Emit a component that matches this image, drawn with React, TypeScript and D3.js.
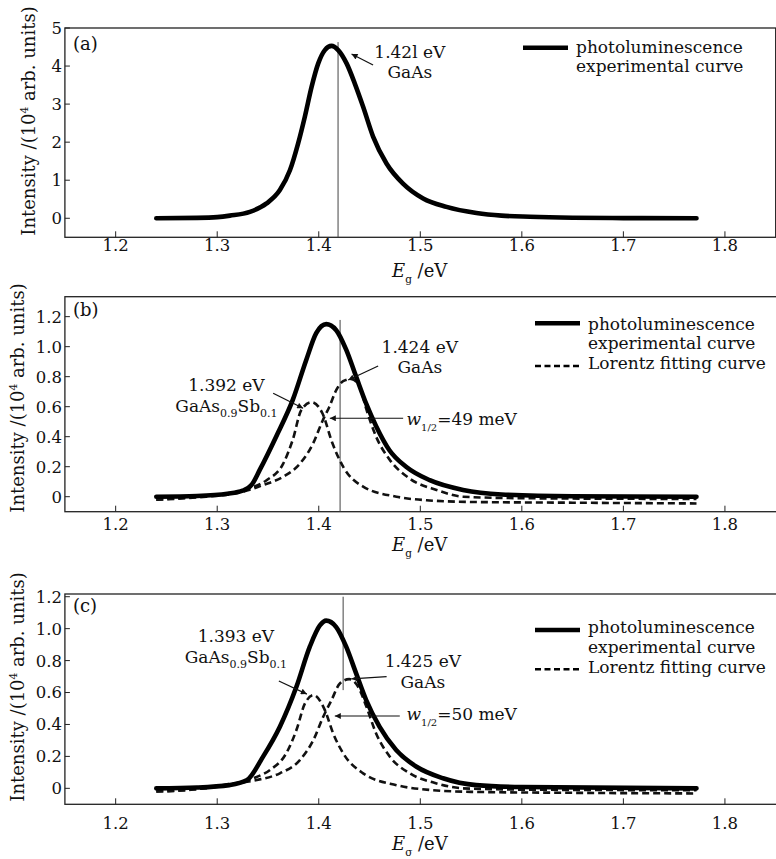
import React from 'react';
import * as d3 from 'd3';

const W = 776;
const H = 859;
const FONT = '"DejaVu Serif", "Liberation Serif", serif';
const FS = 18;
const FS_NOTE = 17;

// shared photon energy ticks (eV)
const xTicks = [1.2, 1.3, 1.4, 1.5, 1.6, 1.7, 1.8];

// (a) photoluminescence, [E (eV), intensity (1e4 arb. units)]
const plA = [
  [1.24, 0], [1.28, 0.01], [1.3, 0.03], [1.3125, 0.07], [1.3322, 0.17], [1.3486, 0.39],
  [1.3617, 0.74], [1.3716, 1.26], [1.3797, 1.97], [1.3863, 2.67], [1.393, 3.46], [1.3995, 4.07],
  [1.406, 4.42], [1.4126, 4.53], [1.4191, 4.42], [1.4274, 4.07], [1.4355, 3.54], [1.4437, 2.93],
  [1.4536, 2.14], [1.4667, 1.44], [1.483, 0.91], [1.5028, 0.52], [1.5258, 0.3], [1.5553, 0.14],
  [1.58, 0.07], [1.608, 0.04], [1.65, 0.015], [1.7, 0.005], [1.772, 0],
];

// (b) photoluminescence + two Lorentz fits
const plB = [
  [1.24, 0], [1.28, 0.005], [1.31, 0.02], [1.325, 0.04], [1.334, 0.08], [1.342, 0.18],
  [1.358, 0.4], [1.3744, 0.645], [1.3876, 0.91], [1.3975, 1.09], [1.4073, 1.15], [1.4172, 1.11],
  [1.427, 0.98], [1.4368, 0.8], [1.4467, 0.62], [1.4565, 0.47], [1.4696, 0.31], [1.486, 0.2],
  [1.5093, 0.11], [1.5421, 0.045], [1.58, 0.015], [1.65, 0.003], [1.772, 0],
];
const sbB = [
  [1.24, -0.02], [1.28, 0], [1.31, 0.02], [1.332, 0.056], [1.3486, 0.11], [1.365, 0.22],
  [1.3744, 0.38], [1.383, 0.58], [1.393, 0.63], [1.4036, 0.556], [1.4135, 0.356], [1.424, 0.2],
  [1.4437, 0.067], [1.4765, 0], [1.509, -0.025], [1.55, -0.035], [1.65, -0.04], [1.772, -0.045],
];
const gaB = [
  [1.24, -0.02], [1.28, -0.005], [1.3256, 0.033], [1.3453, 0.078], [1.365, 0.133], [1.3814, 0.22],
  [1.3945, 0.356], [1.404, 0.51], [1.4105, 0.6], [1.4172, 0.71], [1.424, 0.77], [1.432, 0.785],
  [1.4405, 0.73], [1.447, 0.58], [1.4565, 0.4], [1.47, 0.245], [1.4897, 0.12], [1.516, 0.045],
  [1.542, 0], [1.6, -0.01], [1.772, -0.015],
];

// (c) photoluminescence + two Lorentz fits
const plC = [
  [1.24, 0], [1.28, 0.005], [1.3118, 0.02], [1.329, 0.05], [1.3453, 0.2], [1.3617, 0.386],
  [1.378, 0.636], [1.3912, 0.887], [1.4011, 1.02], [1.4073, 1.05], [1.4172, 1.01], [1.427, 0.887],
  [1.4368, 0.72], [1.4467, 0.553], [1.4598, 0.386], [1.4762, 0.24], [1.4963, 0.135], [1.5224, 0.063],
  [1.555, 0.02], [1.6, 0.008], [1.772, 0],
];
const sbC = [
  [1.24, -0.02], [1.28, -0.005], [1.31, 0.02], [1.3355, 0.063], [1.352, 0.115], [1.368, 0.22],
  [1.378, 0.365], [1.3863, 0.53], [1.395, 0.584], [1.406, 0.49], [1.4142, 0.344], [1.424, 0.22],
  [1.4437, 0.094], [1.4765, 0.02], [1.509, -0.01], [1.55, -0.022], [1.65, -0.028], [1.772, -0.032],
];
const gaC = [
  [1.24, -0.02], [1.28, -0.005], [1.31, 0.025], [1.339, 0.052], [1.3617, 0.094], [1.3814, 0.177],
  [1.3945, 0.3], [1.4044, 0.448], [1.4126, 0.553], [1.4208, 0.657], [1.43, 0.684], [1.4388, 0.636],
  [1.447, 0.51], [1.4565, 0.344], [1.47, 0.198], [1.4897, 0.094], [1.516, 0.031], [1.542, 0],
  [1.6, -0.008], [1.772, -0.012],
];

// thin vertical marker lines [E, yTop, yBottom]
const markA = [1.419, 4.63, -0.5];
const markB = [1.421, 1.178, -0.1];
const markC = [1.424, 1.2, 0.615];

const yTicksA = [0, 1, 2, 3, 4, 5];
const yTicksB = [0, 0.2, 0.4, 0.6, 0.8, 1.0, 1.2];

const panels = [
  {
    letter: '(a)', top: 28, bottom: 237.3, right: 775.7, yDomain: [-0.5, 5], yTicks: yTicksA,
    fmt: (d) => String(d), solid: plA, dashed: [], mark: markA,
    tickBase: 251, xLabelBase: 277, xSub: 'g', yLabelX: 35, yLabelY: 121,
    letterDy: 22, legend: { line: 19.7, text: [25, 44], dash: null },
  },
  {
    letter: '(b)', top: 296.7, bottom: 511.7, right: 778, yDomain: [-0.1, 1.333], yTicks: yTicksB,
    fmt: (d) => (d === 0 ? '0' : d.toFixed(1)), solid: plB, dashed: [sbB, gaB], mark: markB,
    tickBase: 530, xLabelBase: 551, xSub: 'g', yLabelX: 24, yLabelY: 398,
    letterDy: 19.3, legend: { line: 26.6, text: [33.3, 52.3, 72.3], dash: 69.3 },
  },
  {
    letter: '(c)', top: 594, bottom: 804.3, right: 778, yDomain: [-0.1, 1.217], yTicks: yTicksB,
    fmt: (d) => (d === 0 ? '0' : d.toFixed(1)), solid: plC, dashed: [sbC, gaC], mark: markC,
    tickBase: 829, xLabelBase: 850, xSub: 'σ', yLabelX: 24, yLabelY: 687,
    letterDy: 18, legend: { line: 36, text: [39, 59, 79], dash: 75.3 },
  },
];

// annotations in data coordinates
const annA = {
  ga: { cx: 1.4897, b1: 4.203, b2: 3.69, t1: '1.42l eV', from: [1.4535, 4.026], to: [1.4323, 4.316] },
};
const annB = {
  sb: { cx: 1.3091, b1: 0.7047, b2: 0.5667, t1: '1.392 eV', from: [1.3551, 0.6893], to: [1.3846, 0.5893] },
  ga: { cx: 1.4995, b1: 0.956, b2: 0.8227, t1: '1.424 eV', from: [1.4585, 0.8713], to: [1.429, 0.778] },
  w: { from: [1.4831, 0.5227], to: [1.4109, 0.5227], tx: 1.4864, tb: 0.478, t: '=49 meV' },
};
const annC = {
  sb: { cx: 1.3184, b1: 0.918, b2: 0.783, t1: '1.393 eV', from: [1.3607, 0.672], to: [1.3883, 0.59] },
  ga: { cx: 1.5025, b1: 0.761, b2: 0.626, t1: '1.425 eV', from: [1.4668, 0.699], to: [1.4323, 0.686] },
  w: { from: [1.4798, 0.453], to: [1.4158, 0.453], tx: 1.4864, tb: 0.428, t: '=50 meV' },
};
const annotations = [annA, annB, annC];

const x = d3.scaleLinear().domain([1.15, 1.85]).range([64.9, 775.7]);

const Arrow = ({ from, to, y }) => (
  <line
    x1={x(from[0])} y1={y(from[1])} x2={x(to[0])} y2={y(to[1])}
    stroke="#111" strokeWidth={1.2} markerEnd="url(#ah)"
  />
);

const Panel = ({ p, ann }) => {
  const y = d3.scaleLinear().domain(p.yDomain).range([p.bottom, p.top]);
  const line = d3.line().x((d) => x(d[0])).y((d) => y(d[1])).curve(d3.curveMonotoneX);
  const left = x(1.15);
  const lg = p.legend;
  const lgText = ['photoluminescence', 'experimental curve', 'Lorentz fitting curve'];
  const lgX0 = p.dashed.length ? 535 : 523;

  return (
    <g>
      {/* frame */}
      <rect x={left} y={p.top} width={p.right - left} height={p.bottom - p.top}
        fill="none" stroke="#222" strokeWidth={1.3} />

      {/* x ticks */}
      {xTicks.map((t) => (
        <g key={t}>
          <line x1={x(t)} x2={x(t)} y1={p.bottom} y2={p.bottom - 6} stroke="#222" strokeWidth={1} />
          <text x={x(t)} y={p.tickBase} textAnchor="middle" fontSize={16.5}>{t.toFixed(1)}</text>
        </g>
      ))}
      {/* y ticks */}
      {p.yTicks.map((t) => (
        <g key={t}>
          <line x1={left} x2={left + 5} y1={y(t)} y2={y(t)} stroke="#222" strokeWidth={1} />
          <text x={left - 3} y={y(t)} dy="0.36em" textAnchor="end" fontSize={16.5}>{p.fmt(t)}</text>
        </g>
      ))}

      {/* marker line */}
      <line x1={x(p.mark[0])} x2={x(p.mark[0])} y1={y(p.mark[1])} y2={y(p.mark[2])}
        stroke="#444" strokeWidth={1} />

      {/* curves */}
      {p.dashed.map((d, i) => (
        <path key={i} d={line(d)} fill="none" stroke="#111" strokeWidth={2.6} strokeDasharray="7 4" />
      ))}
      <path d={line(p.solid)} fill="none" stroke="#000" strokeWidth={4.6}
        strokeLinecap="round" strokeLinejoin="round" />

      {/* panel letter */}
      <text x={left + 8} y={p.top + p.letterDy} fontSize={FS}>{p.letter}</text>

      {/* legend */}
      <line x1={lgX0} x2={lgX0 + 45} y1={p.top + lg.line} y2={p.top + lg.line} stroke="#000" strokeWidth={4.5} />
      {lg.text.map((dy, i) => (
        <text key={i} x={lgX0 + 53} y={p.top + dy} fontSize={FS_NOTE}>{lgText[i]}</text>
      ))}
      {lg.dash != null && (
        <line x1={lgX0} x2={lgX0 + 45} y1={p.top + lg.dash} y2={p.top + lg.dash}
          stroke="#000" strokeWidth={2.6} strokeDasharray="6 3.5" />
      )}

      {/* annotations */}
      <text x={x(ann.ga.cx)} y={y(ann.ga.b1)} textAnchor="middle" fontSize={FS_NOTE}>{ann.ga.t1}</text>
      <text x={x(ann.ga.cx)} y={y(ann.ga.b2)} textAnchor="middle" fontSize={FS_NOTE}>GaAs</text>
      <Arrow from={ann.ga.from} to={ann.ga.to} y={y} />
      {ann.sb && (
        <g>
          <text x={x(ann.sb.cx)} y={y(ann.sb.b1)} textAnchor="middle" fontSize={FS_NOTE}>{ann.sb.t1}</text>
          <text x={x(ann.sb.cx)} y={y(ann.sb.b2)} textAnchor="middle" fontSize={FS_NOTE}>
            GaAs<tspan fontSize={11} dy={5}>0.9</tspan>
            <tspan dy={-5}>Sb</tspan>
            <tspan fontSize={11} dy={5}>0.1</tspan>
          </text>
          <Arrow from={ann.sb.from} to={ann.sb.to} y={y} />
        </g>
      )}
      {ann.w && (
        <g>
          <Arrow from={ann.w.from} to={ann.w.to} y={y} />
          <text x={x(ann.w.tx)} y={y(ann.w.tb)} fontSize={FS_NOTE}>
            <tspan fontStyle="italic">w</tspan>
            <tspan fontSize={10} dy={6}>1/2</tspan>
            <tspan dy={-6}>{ann.w.t}</tspan>
          </text>
        </g>
      )}

      {/* axis titles */}
      <text x={392} y={p.xLabelBase} fontSize={FS}>
        <tspan fontStyle="italic">E</tspan>
        <tspan fontSize={10.5} dy={6}>{p.xSub}</tspan>
        <tspan dy={-6}> /eV</tspan>
      </text>
      <text transform={`translate(${p.yLabelX},${p.yLabelY}) rotate(-90)`} textAnchor="middle" fontSize={FS}>
        Intensity /(10<tspan fontSize={10.5} dy={-7}>4</tspan>
        <tspan dy={7}> arb. units)</tspan>
      </text>
    </g>
  );
};

export default function App() {
  return (
    <div style={{ position: 'absolute', left: 0, top: 0 }}>
      <svg width={W} height={H} style={{ display: 'block', background: '#fff' }}
        fontFamily={FONT} fill="#111">
        <defs>
          <marker id="ah" viewBox="0 0 10 10" refX={10} refY={5} markerWidth={9} markerHeight={6}
            markerUnits="userSpaceOnUse" orient="auto">
            <path d="M0,0 L10,5 L0,10 z" fill="#111" />
          </marker>
        </defs>
        {panels.map((p, i) => (
          <Panel key={p.letter} p={p} ann={annotations[i]} />
        ))}
      </svg>
    </div>
  );
}
